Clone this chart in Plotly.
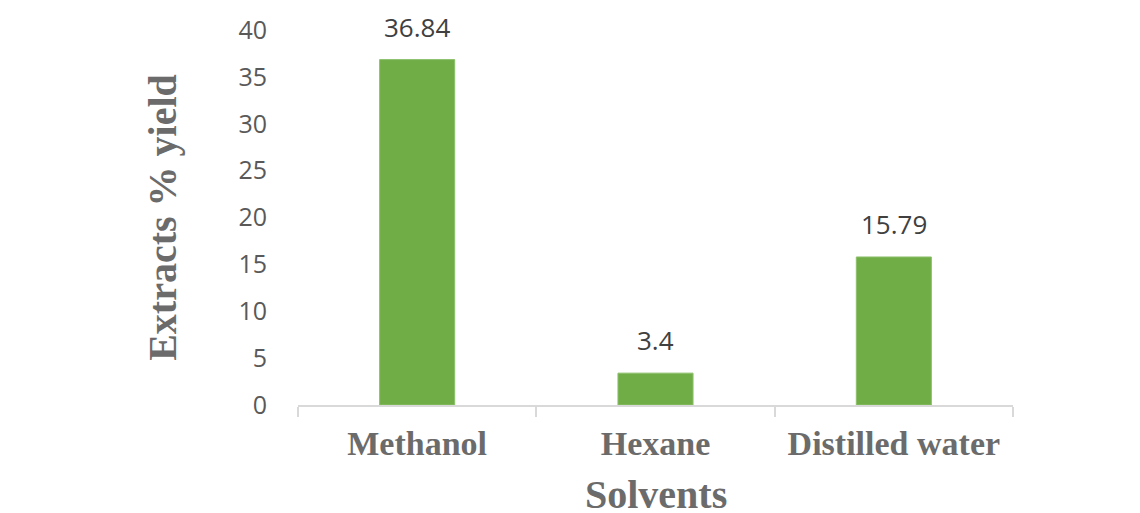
import plotly.graph_objects as go

solvents = ["Methanol", "Hexane", "Distilled water"]
yield_pct = [36.84, 3.4, 15.79]
y_ticks = [0, 5, 10, 15, 20, 25, 30, 35, 40]

fig = go.Figure()
fig.add_trace(go.Bar(
    x=solvents,
    y=yield_pct,
    width=0.315,
    marker=dict(color="#70AD47", line=dict(color="#8cc06a", width=1)),
    hoverinfo="x+y",
))

# value labels above each bar
for s, v in zip(solvents, yield_pct):
    fig.add_annotation(
        x=s, y=v, text=f"{v:g}", showarrow=False,
        yanchor="bottom", yshift=13,
        font=dict(family="Open Sans", size=26, color="#404040"),
    )

# x-axis title, placed below the category labels
fig.add_annotation(
    xref="paper", yref="paper", x=0.5, y=0,
    text="<b>Solvents</b>", showarrow=False,
    xanchor="center", yanchor="top", yshift=-65,
    font=dict(family="Liberation Serif", size=40, color="#6b6b6b"),
)

fig.update_layout(
    width=1140, height=513,
    margin=dict(l=298, r=127, t=30, b=108),
    paper_bgcolor="white", plot_bgcolor="white",
    showlegend=False,
)

fig.update_xaxes(
    automargin=False,
    showline=True, linecolor="#d9d9d9", linewidth=2,
    ticks="outside", tickson="boundaries", ticklen=10,
    tickcolor="#d9d9d9", tickwidth=2,
    tickfont=dict(family="Liberation Serif", size=34, color="#6b6b6b", weight="bold"),
    ticklabelstandoff=7,
    showgrid=False,
)

fig.update_yaxes(
    automargin=False,
    range=[0, 40], tickvals=y_ticks,
    showline=False, showgrid=False, zeroline=False,
    ticks="", ticklabelstandoff=30,
    tickfont=dict(family="Open Sans", size=25, color="#595959"),
    title=dict(text="<b>Extracts % yield</b>", standoff=49,
               font=dict(family="Liberation Serif", size=40, color="#6b6b6b")),
)

fig.write_html("out.html")
